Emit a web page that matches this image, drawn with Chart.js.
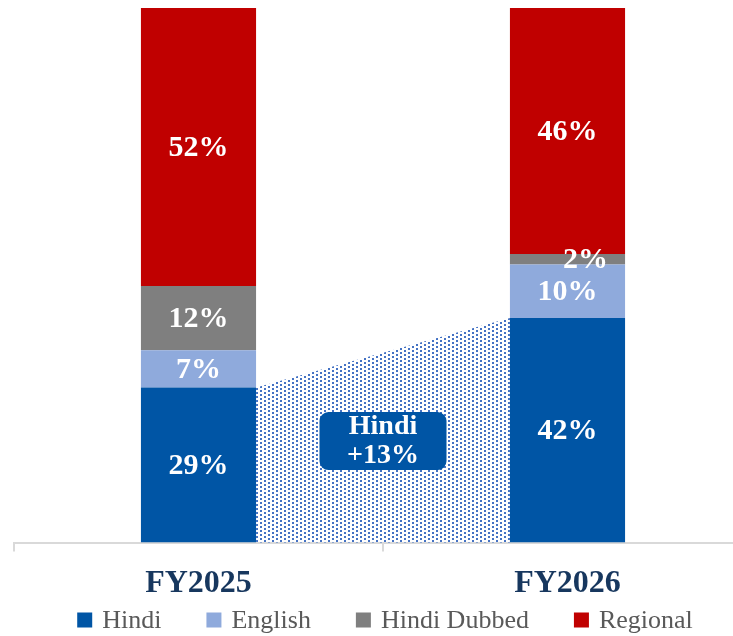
<!DOCTYPE html>
<html><head><meta charset="utf-8">
<script src="https://cdn.jsdelivr.net/npm/chart.js@4.4.1/dist/chart.umd.min.js"></script>
<style>html,body{margin:0;padding:0;overflow:hidden;background:#fff;width:733px;height:636px}canvas{display:block}</style>
</head><body>
<canvas id="c" width="770" height="636"></canvas>
<script>
const categories = ['FY2025', 'FY2026'];
const hindi = [29, 42];
const english = [7, 10];
const hindiDubbed = [12, 2];
const regional = [52, 46];
const seriesNames = ['Hindi', 'English', 'Hindi Dubbed', 'Regional'];
const seriesColors = ['#0055A5', '#8FAADC', '#7F7F7F', '#C00000'];
const calloutTitle = 'Hindi';

const SERIF = '"Liberation Serif", "Times New Roman", serif';

const overlayPlugin = {
  id: 'overlay',
  beforeDatasetsDraw(chart) {
    const meta = chart.getDatasetMeta(0);
    const a = meta.data[0], b = meta.data[1];
    const base = chart.scales.y.getPixelForValue(0);
    const ctx = chart.ctx;
    const pc = document.createElement('canvas');
    pc.width = 8; pc.height = 4;
    const p = pc.getContext('2d');
    p.fillStyle = '#4472C4';
    p.fillRect(0, 0, 2, 2);
    p.fillRect(4, 2, 2, 2);
    ctx.save();
    ctx.fillStyle = ctx.createPattern(pc, 'repeat');
    const x0 = a.x + a.width / 2, x1 = b.x - b.width / 2;
    ctx.beginPath();
    ctx.moveTo(x0, a.y);
    ctx.lineTo(x1, b.y);
    ctx.lineTo(x1, base);
    ctx.lineTo(x0, base);
    ctx.closePath();
    ctx.fill();
    ctx.restore();
  },
  afterDatasetsDraw(chart) {
    const ctx = chart.ctx;
    ctx.save();
    ctx.fillStyle = '#fff';
    ctx.textAlign = 'center';
    ctx.textBaseline = 'middle';
    ctx.font = 'bold 30px ' + SERIF;
    chart.data.datasets.forEach((ds, i) => {
      const meta = chart.getDatasetMeta(i);
      meta.data.forEach((el, j) => {
        const v = ds.data[j];
        const h = el.base - el.y;
        let x = el.x, y = (el.y + el.base) / 2;
        if (h < 20) { x += 18; }
        ctx.fillText(v + '%', x, y + 1);
      });
    });
    // callout
    const meta = chart.getDatasetMeta(0);
    const a = meta.data[0], b = meta.data[1];
    const cx = (a.x + b.x) / 2;
    const cy = chart.scales.y.getPixelForValue(19);
    const w = 127, hh = 58, r = 9;
    ctx.fillStyle = '#0055A5';
    ctx.beginPath();
    ctx.roundRect(cx - w / 2, cy - hh / 2, w, hh, r);
    ctx.fill();
    ctx.fillStyle = '#fff';
    ctx.font = 'bold 28px ' + SERIF;
    ctx.fillText(calloutTitle, cx, cy - 14);
    ctx.fillText('+' + (hindi[1] - hindi[0]) + '%', cx, cy + 15);
    ctx.restore();
  },
  afterDraw(chart) {
    const ctx = chart.ctx;
    ctx.save();
    ctx.font = '26px ' + SERIF;
    ctx.textBaseline = 'middle';
    ctx.textAlign = 'left';
    const box = 15, gapText = 10, gapItem = 45;
    const widths = seriesNames.map(n => ctx.measureText(n).width);
    const total = widths.reduce((s, w) => s + box + gapText + w, 0) + gapItem * (seriesNames.length - 1);
    const center = (chart.chartArea.left + chart.chartArea.right) / 2 + 2;
    let x = center - total / 2;
    const y = 620;
    seriesNames.forEach((n, i) => {
      ctx.fillStyle = seriesColors[i];
      ctx.fillRect(x, y - box / 2, box, box);
      ctx.fillStyle = '#595959';
      ctx.fillText(n, x + box + gapText, y + 1);
      x += box + gapText + widths[i] + gapItem;
    });
    ctx.restore();
  }
};

const seriesData = [hindi, english, hindiDubbed, regional];

new Chart(document.getElementById('c'), {
  type: 'bar',
  data: {
    labels: categories,
    datasets: seriesNames.map((n, i) => ({
      label: n,
      data: seriesData[i],
      backgroundColor: seriesColors[i],
      borderWidth: 0,
      barPercentage: 0.312,
      categoryPercentage: 1.0
    }))
  },
  options: {
    responsive: false,
    animation: false,
    devicePixelRatio: 1,
    layout: { padding: { left: 14, right: 18, top: 8, bottom: 20 } },
    plugins: { legend: { display: false }, tooltip: { enabled: false } },
    scales: {
      x: {
        stacked: true,
        grid: { offset: true, drawOnChartArea: false, drawTicks: true, tickLength: 9, color: '#D9D9D9', lineWidth: 2 },
        border: { display: true, color: '#D9D9D9', width: 2 },
        ticks: { color: '#17375E', font: { family: SERIF, size: 32, weight: 'bold' }, padding: 13 }
      },
      y: {
        stacked: true,
        display: false,
        min: 0,
        max: 100
      }
    }
  },
  plugins: [overlayPlugin]
});
</script>
</body></html>
